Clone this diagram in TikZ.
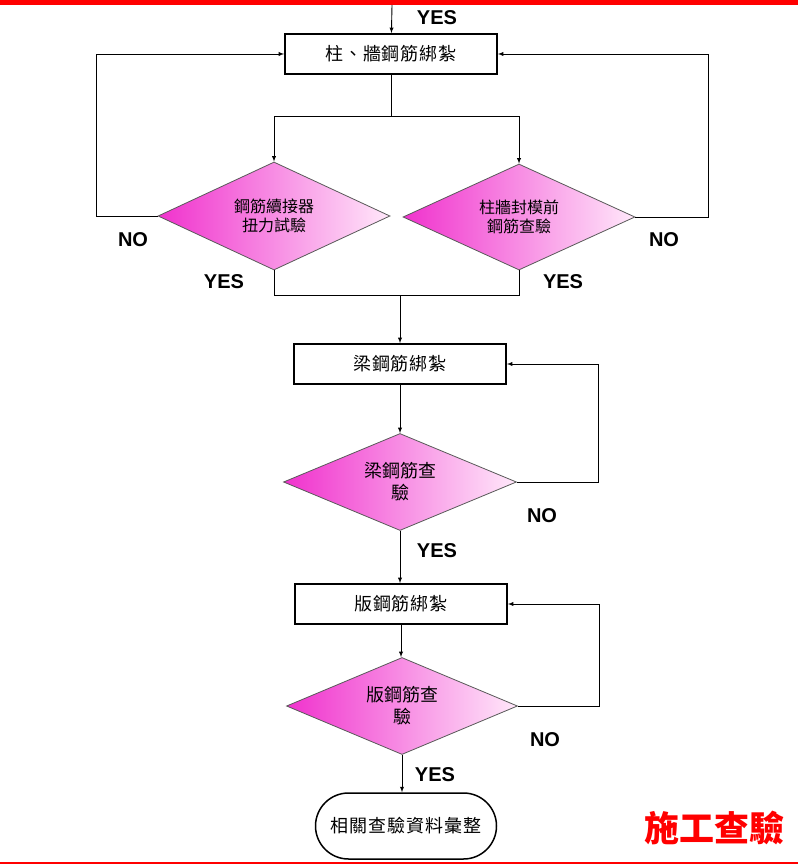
\documentclass[tikz,border=0pt]{standalone}
\usepackage{fontspec}
\setmainfont{Liberation Sans}
\newfontfamily\cjk{Noto Sans CJK TC}
\newfontfamily\cjkwide[LetterSpace=5]{Noto Sans CJK TC}
\usepackage{tikz}
\usetikzlibrary{positioning, shapes.geometric}

\definecolor{pinkL}{RGB}{240,50,205}
\definecolor{pinkR}{RGB}{255,232,250}
\definecolor{barred}{RGB}{255,0,0}

\begin{document}
\begin{tikzpicture}[x=1pt, y=-1pt,
    box/.style={draw, line width=1.8pt, minimum width=212pt, minimum height=40pt, inner sep=0pt, font=\cjkwide\fontsize{18}{20}\selectfont},
    check/.style={diamond, aspect=2.3, draw=black!65, line width=0.8pt, left color=pinkL, right color=pinkR, inner sep=0pt, align=center},
    term/.style={draw, line width=1.5pt, rounded corners=33pt, minimum width=181pt, minimum height=66pt, font=\cjkwide\fontsize{18}{20}\selectfont},
    lbl/.style={font=\bfseries\fontsize{20}{22}\selectfont},
    conn/.style={line width=0.9pt}]
        \tikzset{>=latex}

        % Frame
        \useasboundingbox (0,0) rectangle (798,866);
        \fill[barred] (0,0) rectangle (798,5);
        \fill[barred] (0,862) rectangle (798,864);

        % Column / wall stage
        \coordinate (start) at (392,5);
        \node[box] (colbar) at (391,54) {柱、牆鋼筋綁紮};
        \node[check, minimum width=232pt, minimum height=108pt, font=\cjk\fontsize{16}{19}\selectfont] (coupler) at (274,216) {鋼筋續接器\\扭力試驗};
        \node[check, minimum width=232pt, minimum height=106pt, font=\cjk\fontsize{16}{19}\selectfont] (colchk) at (519,217) {柱牆封模前\\鋼筋查驗};

        % Beam stage
        \node[box] (beambar) at (400,364) {梁鋼筋綁紮};
        \node[check, minimum width=233pt, minimum height=97pt, font=\cjk\fontsize{18}{22}\selectfont] (beamchk) at (400,482) {梁鋼筋查\\驗};

        % Slab stage
        \node[box] (slabbar) at (401,604) {版鋼筋綁紮};
        \node[check, minimum width=231pt, minimum height=97pt, font=\cjk\fontsize{18}{22}\selectfont] (slabchk) at (402,706) {版鋼筋查\\驗};

        % End
        \node[term] (records) at (406,826) {相關查驗資料彙整};
        \node[text=barred, font=\cjk\bfseries\fontsize{35}{38}\selectfont] (title) at (714,828) {施工查驗};

        % Flow
        \draw[conn,->] (start) -- (colbar);
        \draw[conn] (colbar) -- ++(0,62) coordinate (split);
        \draw[conn,->] (split) -| (coupler);
        \draw[conn,->] (split) -| (colchk);
        \draw[conn,->] (coupler.west) -- ++(-61,0) |- (colbar.west);
        \draw[conn,->] (colchk.east) -- ++(73,0) |- (colbar.east);
        \coordinate (merge) at (400,295);
        \draw[conn] (coupler.south) |- (merge);
        \draw[conn] (colchk.south) |- (merge);
        \draw[conn,->] (merge) -- (beambar);
        \draw[conn,->] (beambar) -- (beamchk);
        \draw[conn,->] (beamchk.east) -- ++(82,0) |- (beambar.east);
        \draw[conn,->] (beamchk.south) -- (beamchk.south |- slabbar.north);
        \draw[conn,->] (slabbar.south) -- (slabbar.south |- slabchk.north);
        \draw[conn,->] (slabchk.east) -- ++(82,0) |- (slabbar.east);
        \draw[conn,->] (slabchk.south) -- (slabchk.south |- records.north);

        % Labels
        \node[lbl] (yes0) at (437,18) {YES};
        \node[lbl] (no1) at (133,240) {NO};
        \node[lbl] (yes1) at (224,282) {YES};
        \node[lbl] (no2) at (664,240) {NO};
        \node[lbl] (yes2) at (563,282) {YES};
        \node[lbl] (no3) at (542,516) {NO};
        \node[lbl] (yes3) at (437,551) {YES};
        \node[lbl] (no4) at (545,740) {NO};
        \node[lbl] (yes4) at (435,775) {YES};
    \end{tikzpicture}
\end{document}
